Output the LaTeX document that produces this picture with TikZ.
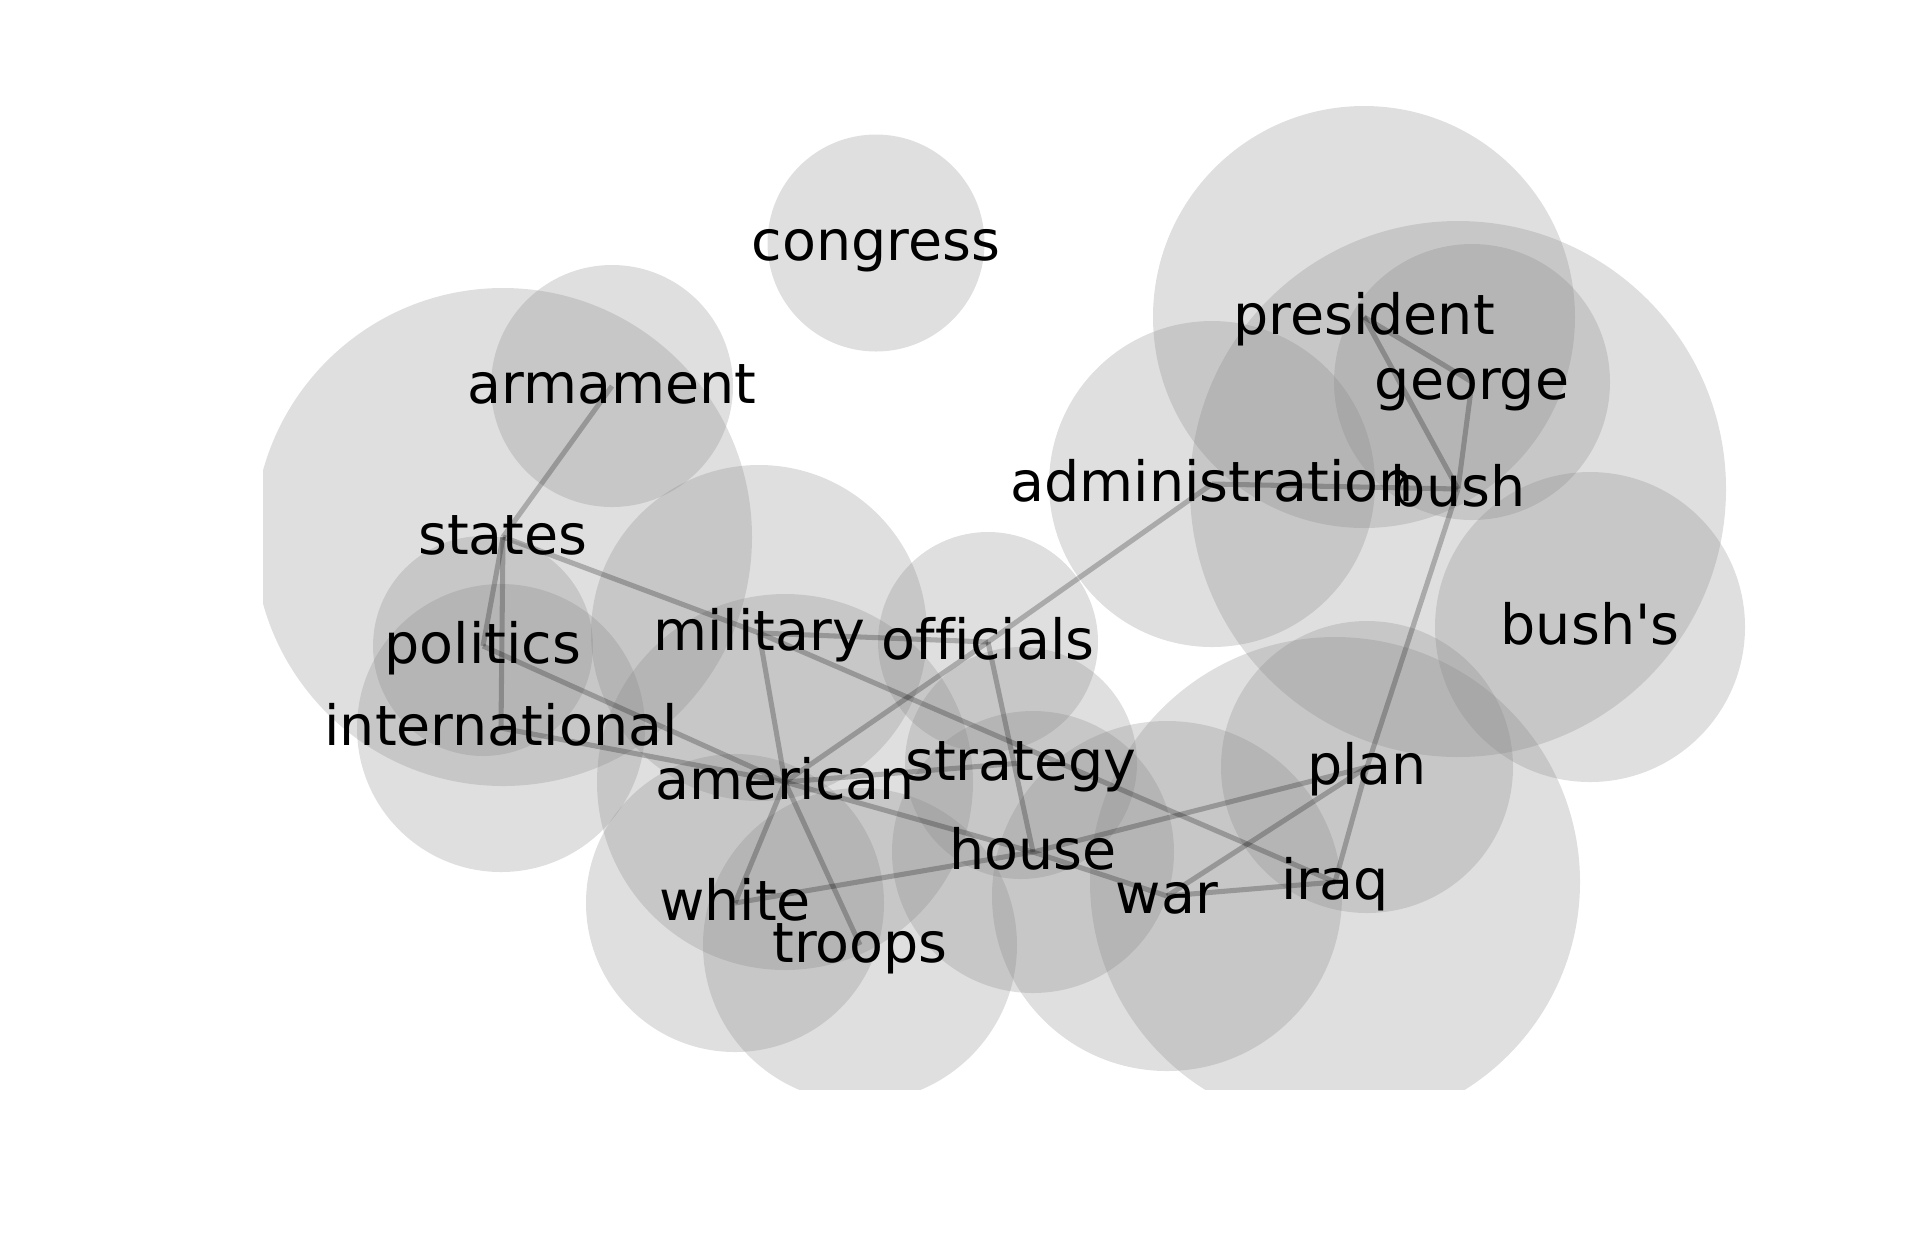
\documentclass[tikz,border=0pt]{standalone}
\usepackage{fontspec}
\setmainfont{DejaVu Sans}[Ligatures={TeXOff,CommonOff}]
\usetikzlibrary{backgrounds}
\begin{document}
\begin{tikzpicture}[x=0.375pt,y=-0.375pt,
  bubble/.style={fill=gray,fill opacity=0.25},
  edge/.style={draw=black,draw opacity=0.24,line width=1.9pt},
  word/.style={inner sep=0pt,outer sep=0pt,text height=17.2pt,text depth=4.33pt,
    font=\fontsize{20.8}{24}\selectfont,text=black}]
\useasboundingbox (0,0) rectangle (1920,1249);
% words
\node[word] (congress) at (876,243) {congress};
\node[word] (armament) at (612,386) {armament};
\node[word] (states) at (503,537) {states};
\node[word] (politics) at (483,646) {politics};
\node[word] (international) at (501,728) {international};
\node[word] (military) at (759,633) {military};
\node[word] (officials) at (988,642) {officials};
\node[word] (american) at (785,782) {american};
\node[word] (strategy) at (1021,763) {strategy};
\node[word] (house) at (1033,852) {house};
\node[word] (white) at (735,903) {white};
\node[word] (troops) at (860,945) {troops};
\node[word] (war) at (1167,896) {war};
\node[word] (iraq) at (1335,882) {iraq};
\node[word] (plan) at (1367,767) {plan};
\node[word] (administration) at (1212,484) {administration};
\node[word] (president) at (1364,317) {president};
\node[word] (george) at (1472,382) {george};
\node[word] (bush) at (1458,489) {bush};
\node[word] (bushs) at (1590,627) {bush's};
\begin{scope}[on background layer]
  \begin{scope}
    \clip (263,0) rectangle (1920,1089);
    \fill[bubble] (congress.center) circle[radius=108.5];
    \fill[bubble] (armament.center) circle[radius=121];
    \fill[bubble] (states.center) circle[radius=249];
    \fill[bubble] (politics.center) circle[radius=110];
    \fill[bubble] (international.center) circle[radius=144];
    \fill[bubble] (military.center) circle[radius=168];
    \fill[bubble] (officials.center) circle[radius=110];
    \fill[bubble] (american.center) circle[radius=188];
    \fill[bubble] (strategy.center) circle[radius=116];
    \fill[bubble] (house.center) circle[radius=141];
    \fill[bubble] (white.center) circle[radius=149];
    \fill[bubble] (troops.center) circle[radius=157];
    \fill[bubble] (war.center) circle[radius=175];
    \fill[bubble] (iraq.center) circle[radius=245];
    \fill[bubble] (plan.center) circle[radius=146];
    \fill[bubble] (administration.center) circle[radius=163];
    \fill[bubble] (president.center) circle[radius=211];
    \fill[bubble] (george.center) circle[radius=138];
    \fill[bubble] (bush.center) circle[radius=268];
    \fill[bubble] (bushs.center) circle[radius=155];
  \end{scope}
  \draw[edge] (armament.center) -- (states.center);
  \draw[edge] (states.center) -- (politics.center);
  \draw[edge] (states.center) -- (international.center);
  \draw[edge] (states.center) -- (military.center);
  \draw[edge] (politics.center) -- (american.center);
  \draw[edge] (international.center) -- (american.center);
  \draw[edge] (military.center) -- (officials.center);
  \draw[edge] (military.center) -- (american.center);
  \draw[edge] (military.center) -- (iraq.center);
  \draw[edge] (officials.center) -- (american.center);
  \draw[edge] (officials.center) -- (administration.center);
  \draw[edge] (officials.center) -- (house.center);
  \draw[edge] (american.center) -- (strategy.center);
  \draw[edge] (american.center) -- (house.center);
  \draw[edge] (house.center) -- (war.center);
  \draw[edge] (american.center) -- (white.center);
  \draw[edge] (american.center) -- (troops.center);
  \draw[edge] (white.center) -- (house.center);
  \draw[edge] (house.center) -- (plan.center);
  \draw[edge] (war.center) -- (plan.center);
  \draw[edge] (war.center) -- (iraq.center);
  \draw[edge] (bush.center) -- (plan.center);
  \draw[edge] (plan.center) -- (iraq.center);
  \draw[edge] (president.center) -- (george.center);
  \draw[edge] (president.center) -- (bush.center);
  \draw[edge] (george.center) -- (bush.center);
  \draw[edge] (administration.center) -- (bush.center);
\end{scope}
\end{tikzpicture}
\end{document}
